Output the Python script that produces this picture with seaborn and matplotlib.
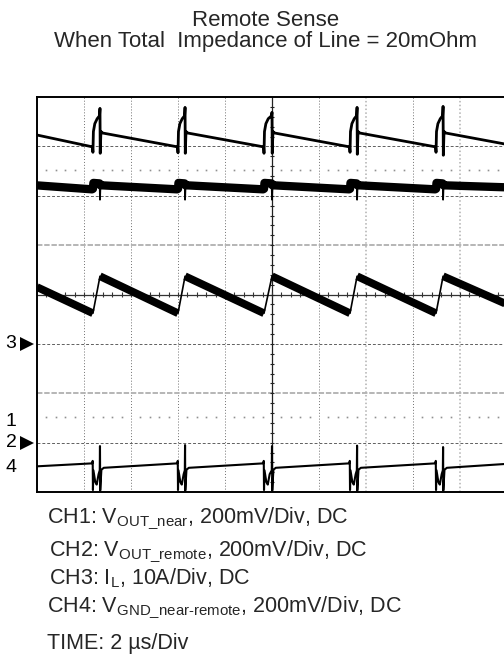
import numpy as np
import pandas as pd
import matplotlib
matplotlib.use("Agg")
import matplotlib.pyplot as plt
import seaborn as sns

sns.set_theme(style="white")
plt.rcParams['font.family'] = ['Liberation Sans', 'DejaVu Sans']
plt.rcParams['mathtext.fontset'] = 'custom'
plt.rcParams['mathtext.rm'] = 'Liberation Sans'
plt.rcParams['mathtext.it'] = 'Liberation Sans:italic'
plt.rcParams['mathtext.bf'] = 'Liberation Sans:bold'

# ---------------- data (time in divisions, level in divisions) ----------------
ch1_t = [0.00,
         1.18, 1.19, 1.20, 1.23, 1.28, 1.33, 1.34, 1.345, 1.36, 1.40,
         2.99, 3.00, 3.01, 3.04, 3.09, 3.14, 3.15, 3.155, 3.17, 3.21,
         4.82, 4.83, 4.84, 4.87, 4.92, 4.99, 5.00, 5.005, 5.02, 5.06,
         6.65, 6.66, 6.67, 6.70, 6.75, 6.80, 6.81, 6.815, 6.83, 6.87,
         8.48, 8.49, 8.50, 8.53, 8.58, 8.63, 8.64, 8.645, 8.66, 8.70,
         10.0]
ch1_v = [7.23,
         6.99, 6.88, 7.30, 7.46, 7.56, 7.62, 7.77, 6.86, 7.30, 7.27,
         6.99, 6.87, 7.30, 7.46, 7.56, 7.62, 7.79, 6.86, 7.30, 7.27,
         6.99, 6.86, 7.30, 7.46, 7.56, 7.62, 7.69, 6.86, 7.30, 7.27,
         6.99, 6.88, 7.30, 7.46, 7.56, 7.62, 7.79, 6.84, 7.30, 7.27,
         6.99, 6.88, 7.30, 7.46, 7.56, 7.62, 7.81, 6.82, 7.30, 7.27,
         7.04]

# CH2 noisy band (drawn thick)
ch2_t = [0.00,
         1.17, 1.19, 1.20, 1.33, 1.35, 1.40,
         2.98, 3.00, 3.01, 3.14, 3.16, 3.21,
         4.81, 4.83, 4.84, 4.99, 5.01, 5.06,
         6.64, 6.66, 6.67, 6.80, 6.82, 6.87,
         8.47, 8.49, 8.50, 8.63, 8.65, 8.70,
         10.0]
ch2_v = [6.21,
         6.13, 6.14, 6.26, 6.25, 6.21, 6.21,
         6.13, 6.14, 6.26, 6.25, 6.21, 6.21,
         6.13, 6.14, 6.26, 6.25, 6.21, 6.21,
         6.13, 6.14, 6.26, 6.25, 6.21, 6.21,
         6.13, 6.14, 6.26, 6.25, 6.21, 6.21,
         6.17]
# CH2 narrow dips at the switching edge (drawn thin)
ch2_dip_t = [1.335, 1.34, 1.35, 3.145, 3.15, 3.16, 4.995, 5.00, 5.01,
             6.805, 6.81, 6.82, 8.635, 8.64, 8.65]
ch2_dip_v = [6.20, 5.92, 6.20, 6.20, 5.92, 6.20, 6.20, 5.92, 6.20,
             6.20, 5.92, 6.20, 6.20, 5.92, 6.20]
ch2_dip_id = [0, 0, 0, 1, 1, 1, 2, 2, 2, 3, 3, 3, 4, 4, 4]

ch3_t = [0.00, 1.19, 1.34, 3.00, 3.15, 4.83, 5.00, 6.66, 6.81, 8.49, 8.64, 10.0]
ch3_v = [4.15, 3.62, 4.37, 3.62, 4.37, 3.62, 4.37, 3.62, 4.37, 3.62, 4.37, 3.80]

ch4_t = [0.00,
         1.175, 1.185, 1.19, 1.20, 1.24, 1.27, 1.31, 1.335, 1.34, 1.345, 1.37, 1.42,
         2.985, 2.995, 3.00, 3.01, 3.05, 3.08, 3.12, 3.145, 3.15, 3.155, 3.18, 3.23,
         4.815, 4.825, 4.83, 4.84, 4.88, 4.91, 4.95, 4.995, 5.00, 5.005, 5.03, 5.08,
         6.645, 6.655, 6.66, 6.67, 6.71, 6.74, 6.78, 6.805, 6.81, 6.815, 6.84, 6.89,
         8.475, 8.485, 8.49, 8.50, 8.54, 8.57, 8.61, 8.635, 8.64, 8.645, 8.67, 8.72,
         10.0]
ch4_v = [0.52,
         0.58, 0.63, 0.04, 0.44, 0.20, 0.15, 0.36, 0.44, 0.93, 0.03, 0.45, 0.49,
         0.58, 0.63, 0.04, 0.44, 0.20, 0.15, 0.36, 0.44, 0.95, 0.03, 0.45, 0.49,
         0.58, 0.63, 0.04, 0.44, 0.20, 0.15, 0.36, 0.44, 0.93, 0.03, 0.45, 0.49,
         0.58, 0.63, 0.04, 0.44, 0.20, 0.15, 0.36, 0.44, 0.94, 0.03, 0.45, 0.49,
         0.58, 0.63, 0.04, 0.44, 0.20, 0.15, 0.36, 0.44, 0.91, 0.03, 0.45, 0.49,
         0.57]

marker_rows = [6.52, 1.52]
ch_labels = ["3", "1", "2", "4"]
ch_label_levels = [3.0, 1.42, 1.0, 0.5]
ch_label_arrow = [True, False, True, False]

title_lines = ["Remote Sense", "When Total  Impedance of Line = 20mOhm"]
caption_lines = [r"CH1: V$_{\mathrm{OUT\_near}}$, 200mV/Div, DC",
                 r"CH2: V$_{\mathrm{OUT\_remote}}$, 200mV/Div, DC",
                 r"CH3: I$_{\mathrm{L}}$, 10A/Div, DC",
                 r"CH4: V$_{\mathrm{GND\_near\text{-}remote}}$, 200mV/Div, DC",
                 "TIME: 2 µs/Div"]

# ---------------- figure ----------------
W, H = 504, 654
fig = plt.figure(figsize=(W / 100, H / 100), dpi=100)
ax = fig.add_axes([37 / W, 1 - 492 / H, 470 / W, 395 / H])
ax.set_xlim(0, 10)
ax.set_ylim(0, 8)
ax.set_xticks([])
ax.set_yticks([])
for sp in ax.spines.values():
    sp.set_color("black")
    sp.set_linewidth(1.4)

# graticule
for i in range(1, 10):
    if i == 5:
        continue
    if i in (7, 9):
        ax.axvline(i, color="#b0b0b0", lw=1.1, ls=(0, (1, 1.5)), zorder=1)
    else:
        ax.axvline(i, color="#707070", lw=0.7, ls=(0, (1, 2)), zorder=1)
for j in range(1, 8):
    if j == 4:
        continue
    if j in (2, 5):
        ax.axhline(j, color="#b0b0b0", lw=1.3, ls=(0, (3, 1)), zorder=1)
    else:
        ax.axhline(j, color="#606060", lw=0.7, ls=(0, (3, 2)), zorder=1)
ax.axvline(5, color="#222222", lw=0.9, zorder=1)
ax.axhline(4, color="#333333", lw=0.9, zorder=1)
xt = np.arange(0.2, 10, 0.2)
yt = np.arange(0.2, 8, 0.2)
ax.vlines(xt, 4 - 0.05, 4 + 0.05, color="#333333", lw=0.8, zorder=1)
ax.hlines(yt, 5 - 0.045, 5 + 0.045, color="#222222", lw=0.8, zorder=1)
for r in marker_rows:
    dx = xt[np.abs(xt - np.round(xt)) > 0.05]
    ax.plot(dx, np.full_like(dx, r), ls="none", marker="s", ms=1.2,
            color="#909090", mew=0, zorder=1)

# traces
df1 = pd.DataFrame({"t": ch1_t, "v": ch1_v})
df2 = pd.DataFrame({"t": ch2_t, "v": ch2_v})
df2d = pd.DataFrame({"t": ch2_dip_t, "v": ch2_dip_v, "seg": ch2_dip_id})
df4 = pd.DataFrame({"t": ch4_t, "v": ch4_v})
sns.lineplot(data=df1, x="t", y="v", sort=False, estimator=None, color="black",
             lw=2.0, ax=ax, zorder=3)
sns.lineplot(data=df2, x="t", y="v", sort=False, estimator=None, color="black",
             lw=6.0, ax=ax, zorder=3)
sns.lineplot(data=df2d, x="t", y="v", units="seg", sort=False, estimator=None,
             color="black", lw=1.3, ax=ax, zorder=3)
sns.lineplot(data=df4, x="t", y="v", sort=False, estimator=None, color="black",
             lw=1.5, ax=ax, zorder=3)

rows = []
for k in range(len(ch3_t) - 1):
    kind = "ramp" if ch3_v[k + 1] < ch3_v[k] else "edge"
    rows.append({"seg": k, "t": ch3_t[k], "v": ch3_v[k], "kind": kind})
    rows.append({"seg": k, "t": ch3_t[k + 1], "v": ch3_v[k + 1], "kind": kind})
df3 = pd.DataFrame(rows)
sns.lineplot(data=df3[df3.kind == "ramp"], x="t", y="v", units="seg",
             estimator=None, sort=False, color="black", lw=5.6, ax=ax,
             zorder=3, solid_capstyle="butt")
sns.lineplot(data=df3[df3.kind == "edge"], x="t", y="v", units="seg",
             estimator=None, sort=False, color="black", lw=1.2, ax=ax, zorder=3)
ax.set_xlabel("")
ax.set_ylabel("")

# channel markers
for lab, lev, arr in zip(ch_labels, ch_label_levels, ch_label_arrow):
    ax.text(-0.55, lev, lab, ha="center", va="center", fontsize=14,
            color="black", clip_on=False)
    if arr:
        ax.plot([-0.21], [lev], marker=">", ms=9.5, color="black",
                clip_on=False, mew=0)

# title (one two-line text block)
fig.text(266 / W, 1 - 31 / H, "\n".join(title_lines), ha="center", va="center",
         multialignment="center", fontsize=16, linespacing=0.95)

# captions
cap_pos = [(47, 519), (49, 552), (49, 578), (47, 608), (47, 643)]
for (px, py), txt in zip(cap_pos, caption_lines):
    fig.text(px / W, 1 - py / H, txt, ha="left", va="center", fontsize=15.5)

fig.savefig("out.png", dpi=100, facecolor="white")
